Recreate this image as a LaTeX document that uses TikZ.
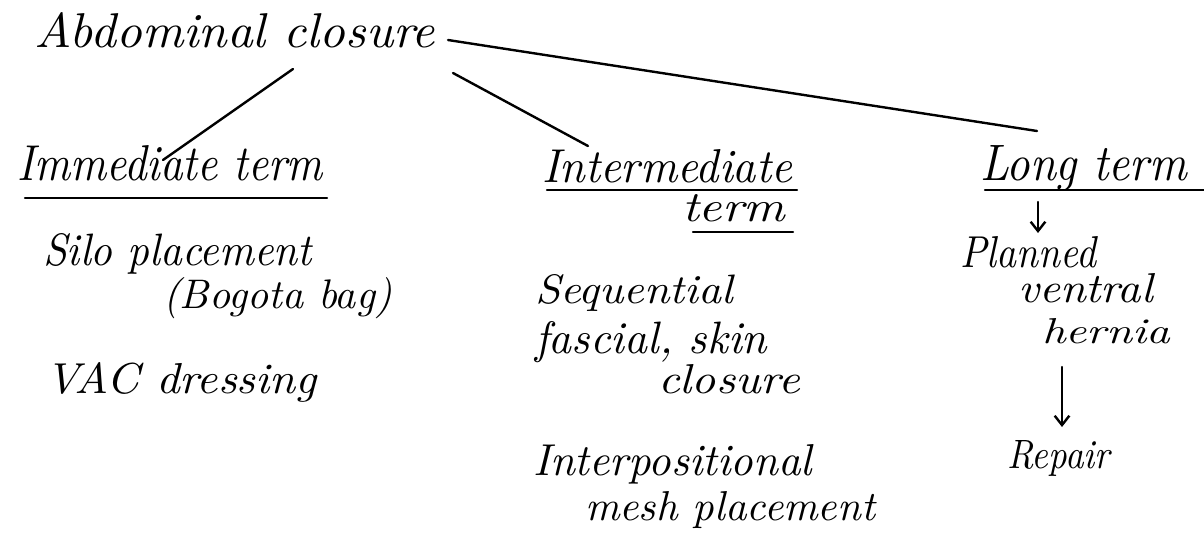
\documentclass[tikz,border=0pt]{standalone}
\usetikzlibrary{arrows.meta}
\newcommand\hwtext[3]{\resizebox{\dimexpr0.75pt*#1\relax}{\dimexpr0.75pt*#2\relax}{\itshape #3}}
\begin{document}
\begin{tikzpicture}[x=0.75pt,y=-0.75pt,
  lbl/.style={anchor=base west,inner sep=0pt,outer sep=0pt},
  conn/.style={line width=1.8pt,line cap=round},
  uline/.style={line width=1.8pt,line cap=round},
  harrow/.style={line width=1.8pt,line cap=round,-{Straight Barb[length=7pt,width=11pt,line width=1.8pt]}}]
\useasboundingbox[fill=white] (0,0) rectangle (1204,539);
% texts: width, height (px)
\node[lbl] (abd) at (35,47) {\hwtext{400}{35}{Abdominal closure}};
\node[lbl] (imm) at (17,180) {\hwtext{306}{35}{Immediate term}};
\node[lbl] (int) at (542,182) {\hwtext{250}{33}{Intermediate}};
\node[lbl] (intterm) at (682,221) {\hwtext{103}{27}{term}};
\node[lbl] (long) at (980,180) {\hwtext{207}{35}{Long term}};
\node[lbl] (planned) at (960,267) {\hwtext{136}{31}{Planned}};
\node[lbl] (ventral) at (1018,302) {\hwtext{135}{29}{ventral}};
\node[lbl] (hernia) at (1042,343) {\hwtext{128}{25}{hernia}};
\node[lbl] (repair) at (1007,468) {\hwtext{103}{28}{Repair}};
\node[lbl] (silo) at (43,265) {\hwtext{269}{32}{Silo placement}};
\node[lbl] (bogota) at (163,308) {\hwtext{229}{31}{(Bogota bag)}};
\node[lbl] (vac) at (45,393) {\hwtext{272}{31}{VAC dressing}};
\node[lbl] (seq) at (535,303) {\hwtext{198}{29}{Sequential}};
\node[lbl] (fascial) at (535,353) {\hwtext{232}{32}{fascial, skin}};
\node[lbl] (closure) at (658,393) {\hwtext{142}{29}{closure}};
\node[lbl] (interp) at (533,475) {\hwtext{279}{31}{Interpositional}};
\node[lbl] (mesh) at (585,520) {\hwtext{290}{29}{mesh placement}};
% connector end points
\coordinate (abdR) at (448,40);
\coordinate (abdM) at (453,73);
\coordinate (abdL) at (293,69);
\coordinate (immT) at (163,160);
\coordinate (intT) at (588,146);
\coordinate (longT) at (1037,131);
\coordinate (longA1) at (1038,202);
\coordinate (longA2) at (1038,233);
\coordinate (herA1) at (1062,367);
\coordinate (herA2) at (1062,427);
% connectors
\draw[conn] (abdR) -- (longT);
\draw[conn] (abdM) -- (intT);
\draw[conn] (abdL) -- (immT);
\draw[harrow] (longA1) -- (longA2);
\draw[harrow] (herA1) -- (herA2);
% underlines
\coordinate (u1a) at (25,198); \coordinate (u1b) at (327,198);
\coordinate (u2a) at (547,190); \coordinate (u2b) at (797,190);
\coordinate (u3a) at (693,232); \coordinate (u3b) at (793,232);
\coordinate (u4a) at (985,190); \coordinate (u4b) at (1204,190);
\draw[uline] (u1a) -- (u1b);
\draw[uline] (u2a) -- (u2b);
\draw[uline] (u3a) -- (u3b);
\draw[uline] (u4a) -- (u4b);
\end{tikzpicture}
\end{document}
